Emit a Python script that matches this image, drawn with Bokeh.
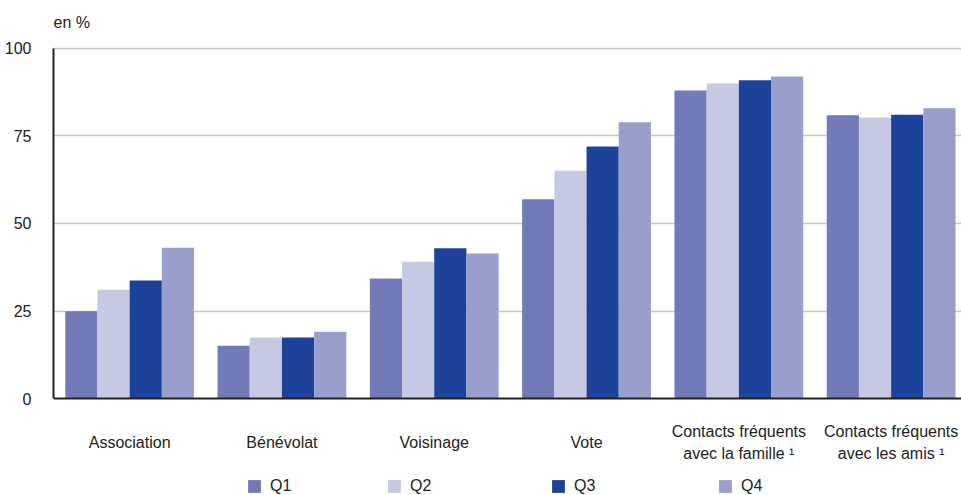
import numpy as np
from bokeh.plotting import figure
from bokeh.models import (FixedTicker, Legend, LegendItem, Label, Range1d,
                          Span, ColumnDataSource)
from bokeh.core.properties import value
from bokeh.embed import file_html
from bokeh.resources import INLINE

categories = ["Association", "Bénévolat", "Voisinage", "Vote",
              "Contacts fréquents\navec la famille \u00b9",
              "Contacts fréquents\navec les amis \u00b9"]
series_names = ["Q1", "Q2", "Q3", "Q4"]
q1 = [24.9, 15.1, 34.3, 56.9, 88.0, 80.9]
q2 = [31.1, 17.4, 39.1, 65.1, 90.0, 80.3]
q3 = [33.7, 17.4, 42.9, 72.0, 90.9, 81.1]
q4 = [43.1, 19.1, 41.4, 78.9, 92.0, 82.9]
y_ticks = [0, 25, 50, 75, 100]
unit_label = "en %"
colors = ["#737ab9", "#c7c8e3", "#1c4399", "#999ecc"]

FONT = "Liberation Sans"
FS = "16px"
TXT = "#222222"

# 3.5 px per unit; frame spans the whole canvas height
p = figure(width=961, height=495, output_backend="svg", toolbar_location=None,
           x_axis_location=None,
           x_range=Range1d(-0.5, 5.462), y_range=Range1d(-27.71, 113.71),
           min_border_left=53, min_border_top=0, min_border_right=0,
           min_border_bottom=0)
p.outline_line_color = None
p.background_fill_color = "white"

idx = np.arange(len(categories))
w = 0.2114
offsets = [-1.5 * w, -0.5 * w, 0.5 * w, 1.5 * w]
renderers = []
for name, vals, off, col in zip(series_names, [q1, q2, q3, q4], offsets, colors):
    r = p.vbar(x=idx + off, top=vals, bottom=0, width=w, fill_color=col,
               line_color=None)
    renderers.append(r)

# grid
p.xgrid.visible = False
p.ygrid.ticker = FixedTicker(ticks=y_ticks[1:])
p.ygrid.grid_line_color = "#c6c6c6"
p.ygrid.grid_line_width = 1.5

# baseline (x axis line)
p.add_layout(Span(location=0, dimension="width", line_color="#222222",
                  line_width=2))

# y axis
p.yaxis.ticker = FixedTicker(ticks=y_ticks)
p.yaxis.bounds = (0, 100)
p.yaxis.axis_line_color = "#222222"
p.yaxis.axis_line_width = 2
p.yaxis.major_tick_line_color = None
p.yaxis.minor_tick_line_color = None
p.yaxis.major_label_standoff = 16
p.yaxis.major_label_text_font = FONT
p.yaxis.major_label_text_font_size = FS
p.yaxis.major_label_text_color = TXT

# category labels under the bars
src = ColumnDataSource(dict(x=idx, y=np.full(len(idx), -12.6), t=categories))
p.text(x="x", y="y", text="t", source=src, text_align="center",
       text_baseline="middle", text_font=value(FONT), text_font_size=FS,
       text_color=TXT, text_line_height=1.25)

# unit label
p.add_layout(Label(x=-0.5, y=107.4, text=unit_label, text_align="left",
                   text_baseline="middle", text_font=FONT,
                   text_font_size=FS, text_color=TXT))

# legend: one entry per series, placed under the chart
legend_offsets = [193, 333, 497, 664]
for name, r, lx in zip(series_names, renderers, legend_offsets):
    lg = Legend(items=[LegendItem(label=name, renderers=[r])],
                location=(lx, 0), glyph_width=16, glyph_height=16,
                label_standoff=8, padding=0, margin=0, border_line_alpha=0,
                background_fill_alpha=0, label_text_font=FONT,
                label_text_font_size=FS, label_text_color=TXT,
                label_height=16)
    p.add_layout(lg, "center")

open("out.html", "w").write(file_html(p, INLINE))
